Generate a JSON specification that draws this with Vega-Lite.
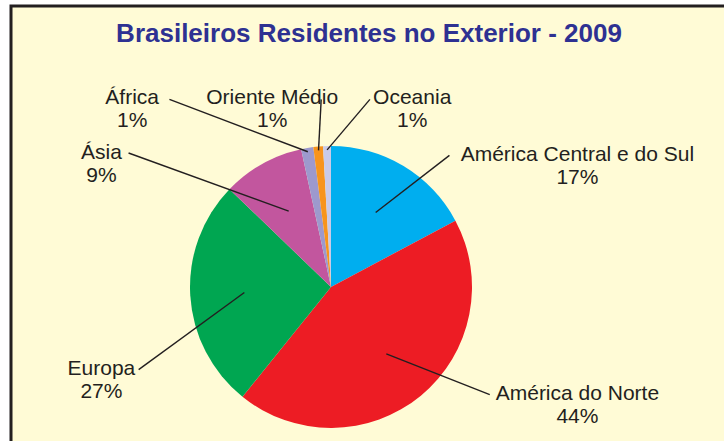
{
  "$schema": "https://vega.github.io/schema/vega-lite/v6.json",
  "autosize": {"type": "none"},
  "width": 716,
  "height": 438,
  "padding": {"left": 11, "top": 6, "right": 0, "bottom": 0},
  "background": "#FFFFFF",
  "config": {
    "view": {"fill": "#FFFBD6", "stroke": "#231F20", "strokeWidth": 3},
    "font": "Liberation Sans"
  },
  "title": {
    "text": "Brasileiros Residentes no Exterior - 2009",
    "anchor": "middle",
    "orient": "top",
    "frame": "group",
    "offset": 0,
    "baseline": "alphabetic",
    "dy": 62,
    "font": "Liberation Sans",
    "fontSize": 26,
    "fontWeight": "bold",
    "color": "#2E3192"
  },
  "data": {
    "values": [
      {"regiao": "América Central e do Sul", "pct": "17%", "valor": 17.2, "ordem": 1},
      {"regiao": "América do Norte", "pct": "44%", "valor": 43.6, "ordem": 2},
      {"regiao": "Europa", "pct": "27%", "valor": 26.4, "ordem": 3},
      {"regiao": "Ásia", "pct": "9%", "valor": 9.4, "ordem": 4},
      {"regiao": "África", "pct": "1%", "valor": 1.4, "ordem": 5},
      {"regiao": "Oriente Médio", "pct": "1%", "valor": 1.1, "ordem": 6},
      {"regiao": "Oceania", "pct": "1%", "valor": 0.9, "ordem": 7}
    ]
  },
  "transform": [
    {"joinaggregate": [{"op": "sum", "field": "valor", "as": "total"}]},
    {"window": [{"op": "sum", "field": "valor", "as": "cum"}], "sort": [{"field": "ordem"}], "frame": [null, 0]},
    {"calculate": "2*PI*(datum.cum - datum.valor/2)/datum.total", "as": "a"},
    {"calculate": "datum.valor < 3 ? 1 : 0", "as": "pequena"},
    {"window": [{"op": "row_number", "as": "k"}], "groupby": ["pequena"], "sort": [{"field": "ordem"}]},
    {"calculate": "sin(datum.a) >= 0 ? 1 : -1", "as": "lado"},
    {"calculate": "datum.pequena ? -0.42 + (datum.k - 2) : datum.lado * 1.7 + 0.06", "as": "lx"},
    {"calculate": "datum.pequena ? 1.31 : (cos(datum.a) >= 0 ? 1 : -1) * max(abs(cos(datum.a)), 0.6) * 1.05", "as": "ly"},
    {"calculate": "(datum.pequena ? 0.98 : 0.62) * sin(datum.a)", "as": "x0"},
    {"calculate": "(datum.pequena ? 0.98 : 0.62) * cos(datum.a)", "as": "y0"},
    {"calculate": "length(datum.regiao) * 0.036", "as": "hw"},
    {"calculate": "datum.pequena ? datum.lx + (datum.x0 > datum.lx ? 1 : -1) * (min(datum.hw, 0.3) + 0.05) : datum.lx - datum.lado * (datum.hw + 0.05)", "as": "x1"},
    {"calculate": "datum.ly + (datum.pequena ? 0.03 : 0.04)", "as": "y1"},
    {"calculate": "[datum.regiao, datum.pct]", "as": "rotulo"}
  ],
  "layer": [
    {
      "mark": {"type": "arc", "outerRadius": 141},
      "encoding": {
        "x": {"datum": 0, "type": "quantitative", "scale": {"domain": [-2.285714, 2.828571], "nice": false, "zero": false}, "axis": null},
        "y": {"datum": 0, "type": "quantitative", "scale": {"domain": [-1.121429, 2.007143], "nice": false, "zero": false}, "axis": null},
        "theta": {"field": "valor", "type": "quantitative", "stack": true},
        "order": {"field": "ordem", "type": "quantitative", "sort": "ascending"},
        "color": {
          "field": "regiao",
          "type": "nominal",
          "legend": null,
          "scale": {
            "domain": ["América Central e do Sul", "América do Norte", "Europa", "Ásia", "África", "Oriente Médio", "Oceania"],
            "range": ["#00AEEF", "#ED1C24", "#00A651", "#C2569E", "#9D99CD", "#F7941D", "#C9CAE8"]
          }
        }
      }
    },
    {
      "mark": {"type": "rule", "stroke": "#231F20", "strokeWidth": 1.4},
      "encoding": {
        "x": {"field": "x0", "type": "quantitative", "scale": {"domain": [-2.285714, 2.828571], "nice": false, "zero": false}, "axis": null},
        "y": {"field": "y0", "type": "quantitative", "scale": {"domain": [-1.121429, 2.007143], "nice": false, "zero": false}, "axis": null},
        "x2": {"field": "x1"},
        "y2": {"field": "y1"}
      }
    },
    {
      "mark": {"type": "text", "align": "center", "baseline": "alphabetic", "fontSize": 21, "lineHeight": 23, "font": "Liberation Sans", "color": "#231F20"},
      "encoding": {
        "x": {"field": "lx", "type": "quantitative", "scale": {"domain": [-2.285714, 2.828571], "nice": false, "zero": false}, "axis": null},
        "y": {"field": "ly", "type": "quantitative", "scale": {"domain": [-1.121429, 2.007143], "nice": false, "zero": false}, "axis": null},
        "text": {"field": "rotulo", "type": "nominal"}
      }
    }
  ]
}
